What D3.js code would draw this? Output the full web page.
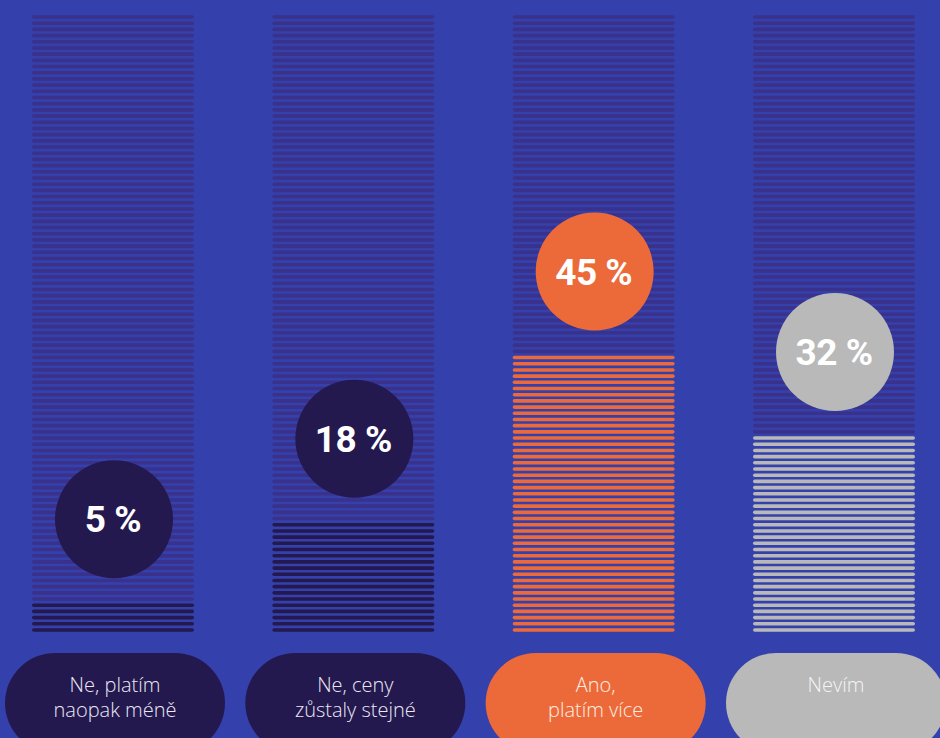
<!DOCTYPE html>
<html>
<head>
<meta charset="utf-8">
<script src="https://cdn.jsdelivr.net/npm/d3@7"></script>
<style>
  html, body { margin: 0; padding: 0; background: #3441ad; }
  svg { display: block; }
</style>
</head>
<body>
<svg id="chart" width="940" height="738"></svg>
<script>
// Survey answers: share of respondents (in %)
const categories = ["Ne, platím naopak méně", "Ne, ceny zůstaly stejné", "Ano, platím více", "Nevím"];
const labelLines = [["Ne, platím", "naopak méně"], ["Ne, ceny", "zůstaly stejné"], ["Ano,", "platím více"], ["Nevím"]];
const values = [5, 18, 45, 32];
const valueLabels = ["5 %", "18 %", "45 %", "32 %"];
const colors = ["#23194f", "#23194f", "#ec6a39", "#b8b9b8"];
const pillText = ["#ece8f3", "#ece8f3", "#fdeee6", "#f5f5f5"];

const W = 940, H = 738;
const svg = d3.select("#chart");

svg.append("rect").attr("width", W).attr("height", H).attr("fill", "#3441ad");

// column centres
const x = d3.scalePoint().domain(categories).range([113, 834]);
// each bar is a stack of 100 strokes, one per percent
const y = d3.scaleLinear().domain([0, 99]).range([630, 17]);
const barW = 162, strokeW = 3.6;
const emptyColor = "#3a318b";

const cols = svg.selectAll("g.col")
  .data(categories.map((c, i) => ({ c, i, v: values[i] })))
  .join("g")
  .attr("class", "col");

cols.each(function (d) {
  const g = d3.select(this);
  const cx = x(d.c);
  const steps = d3.range(100);
  g.selectAll("line")
    .data(steps)
    .join("line")
    .attr("x1", cx - barW / 2 + strokeW / 2)
    .attr("x2", cx + barW / 2 - strokeW / 2)
    .attr("y1", s => y(s))
    .attr("y2", s => y(s))
    .attr("stroke", s => s < d.v ? colors[d.i] : emptyColor)
    .attr("stroke-width", strokeW)
    .attr("stroke-linecap", "round");

  // value bubble above the filled part
  const cy = y(d.v - 1) - 86;
  g.append("circle")
    .attr("cx", cx + 1)
    .attr("cy", cy)
    .attr("r", 59)
    .attr("fill", colors[d.i]);
  g.append("text")
    .attr("x", cx)
    .attr("y", cy + 13)
    .attr("text-anchor", "middle")
    .attr("font-family", "Roboto, 'Open Sans', sans-serif")
    .attr("font-weight", 700)
    .attr("font-size", 37)
    .attr("letter-spacing", -0.5)
    .attr("fill", "#ffffff")
    .text(valueLabels[d.i]);

  // category pill with a one- or two-line label
  const pw = 220, ph = 100;
  g.append("rect")
    .attr("x", cx - pw / 2 + 2)
    .attr("y", 653)
    .attr("width", pw)
    .attr("height", ph)
    .attr("rx", 50)
    .attr("fill", colors[d.i]);
  labelLines[d.i].forEach((ln, k) => {
    g.append("text")
      .attr("x", cx + 2)
      .attr("y", 692 + k * 25)
      .attr("text-anchor", "middle")
      .attr("font-family", "'Open Sans', Lato, sans-serif")
      .attr("font-weight", 300)
      .attr("font-size", 20)
      .attr("fill", pillText[d.i])
      .text(ln);
  });
});
</script>
</body>
</html>
